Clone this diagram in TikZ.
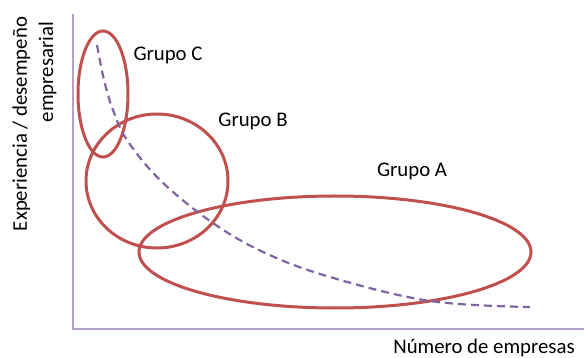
\documentclass[tikz,border=0pt]{standalone}
\usepackage{fontspec}
\setmainfont{Carlito}
\usepackage{tikz}
\usetikzlibrary{calc,positioning}
\definecolor{grupored}{RGB}{192,80,77}
\definecolor{ejelila}{RGB}{179,162,199}
\definecolor{curvamorado}{RGB}{128,100,162}

\begin{document}
\begin{tikzpicture}[x=1pt,y=-1pt]
			\tikzstyle{every node}+=[inner sep=0pt]
			\tikzstyle{eje}=[draw=ejelila, line width=2.5pt]
			\tikzstyle{grupo}=[draw=grupored, line width=3pt]
			\tikzstyle{curva}=[draw=curvamorado, line width=2.2pt, dash pattern=on 8pt off 5pt]
			\tikzstyle{etiqueta}=[font=\fontsize{20.8}{25}\selectfont, anchor=base]
			\useasboundingbox (0,0) rectangle (584,358);
			% ejes
			\coordinate (arriba) at (73,14);
			\coordinate (origen) at (73,329);
			\coordinate (derecha) at (584,329);
			\draw [eje] (arriba) -- (origen) -- (derecha);
			% grupos
			\draw [grupo] (103,94) ellipse [x radius=25, y radius=63];
			\draw [grupo] (157,181) ellipse [x radius=71, y radius=67];
			\draw [grupo] (335,252) ellipse [x radius=196, y radius=56];
			% curva
			\draw [curva] plot [smooth, tension=0.6] coordinates {(97,45) (104,80) (113,110) (127,140) (160,180) (210,221) (263,252) (330,277) (430,301) (530,307)};
			% textos
			\node [etiqueta] (grupoC) at (168,61) {Grupo C};
			\node [etiqueta] (grupoB) at (253,127) {Grupo B};
			\node [etiqueta] (grupoA) at (412,177) {Grupo A};
			\node [etiqueta] (ejex) at (484,353) {Número de empresas};
			\node [etiqueta, rotate=90] (ejey1) at (27,124) {Experiencia / desempeño};
			\node [etiqueta, rotate=90] (ejey2) at (53,72) {empresarial};
		\end{tikzpicture}
\end{document}
